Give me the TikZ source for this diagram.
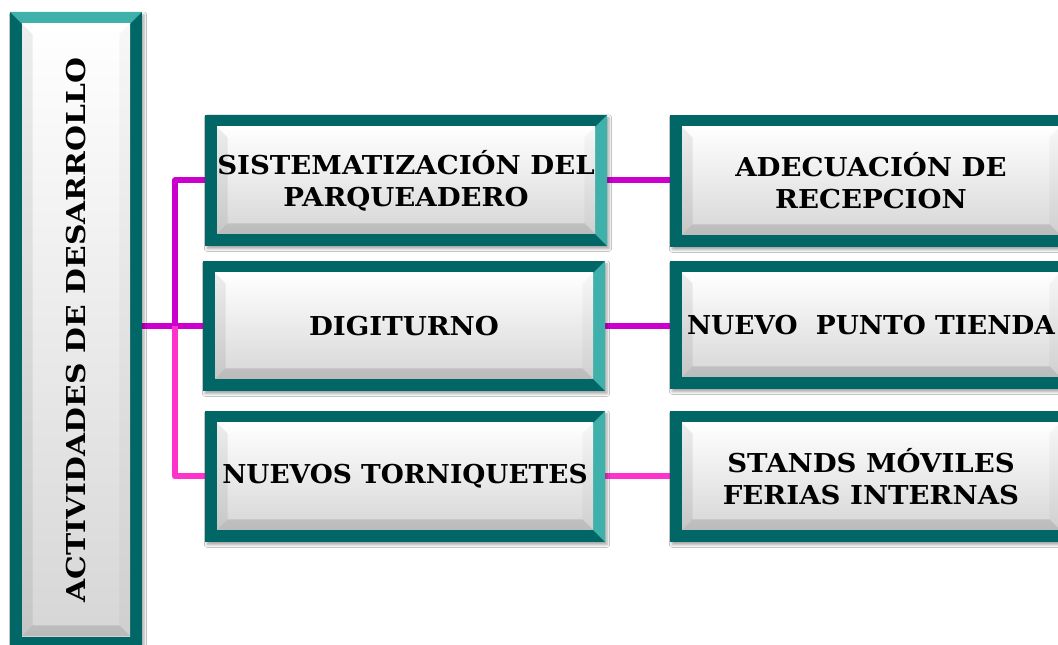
\documentclass[tikz,border=0pt]{standalone}
\usepackage{fontspec}
\usepackage{graphicx}
\setmainfont{DejaVu Serif}
\newfontfamily\boxfont{DejaVu Serif}[FakeStretch=1.06]
\usetikzlibrary{calc,backgrounds,shadows.blur}
\definecolor{tealD}{RGB}{0,102,102}
\definecolor{tealL}{RGB}{64,176,170}
\definecolor{magD}{RGB}{204,0,204}
\definecolor{magP}{RGB}{255,51,204}
\newcommand\bvcommon{%
  \coordinate (sw) at (path picture bounding box.south west);
  \coordinate (ne) at (path picture bounding box.north east);
  \coordinate (nw) at (path picture bounding box.north west);
  \coordinate (se) at (path picture bounding box.south east);
  \fill[tealD] (sw) rectangle (ne);}
\newcommand\bvright{%
  \fill[tealL] (ne) -- (se) -- ([shift={(-9pt,9pt)}]se) -- ([shift={(-9pt,-9pt)}]ne) -- cycle;}
\newcommand\bvtop{%
  \fill[tealL] (nw) -- (ne) -- ([shift={(-9pt,-9pt)}]ne) -- ([shift={(9pt,-9pt)}]nw) -- cycle;}
\newcommand\bvinner{%
  \coordinate (isw) at ([shift={(9pt,9pt)}]sw);
  \coordinate (ine) at ([shift={(-9pt,-9pt)}]ne);
  \coordinate (inw) at ([shift={(9pt,-9pt)}]nw);
  \coordinate (ise) at ([shift={(-9pt,9pt)}]se);
  \shade[top color=white, bottom color=black!16] (isw) rectangle (ine);
  \fill[black, opacity=0.07] (isw) -- (inw) -- ([shift={(8pt,-8pt)}]inw) -- ([shift={(8pt,8pt)}]isw) -- cycle;
  \fill[black, opacity=0.12] (isw) -- ([shift={(8pt,8pt)}]isw) -- ([shift={(-8pt,8pt)}]ise) -- (ise) -- cycle;
  \fill[black, opacity=0.03] (ise) -- (ine) -- ([shift={(-8pt,-8pt)}]ine) -- ([shift={(-8pt,8pt)}]ise) -- cycle;}
\tikzset{
  bvnode/.style={rectangle, inner sep=0pt, align=center,
    font=\boxfont\bfseries\fontsize{19.5}{24}\selectfont,
    blur shadow={shadow xshift=1.5pt, shadow yshift=-2pt, shadow blur radius=2pt, shadow opacity=35}},
  bevelR/.style={bvnode, path picture={\bvcommon\bvright\bvinner}},
  bevelT/.style={bvnode, path picture={\bvcommon\bvtop\bvinner}},
  link/.style={line width=4.5pt},
}
\begin{document}
\begin{tikzpicture}[x=0.75pt, y=-0.75pt]
\useasboundingbox (0,0) rectangle (1058,645);
\clip (0,0) rectangle (1058,645);
% left box
\node[bevelT, minimum width=132*0.75pt, minimum height=636*0.75pt] (L) at (76,330) {\rotatebox{90}{\scalebox{1.08}[1]{ACTIVIDADES DE DESARROLLO}}};
% middle column
\node[bevelR, minimum width=402*0.75pt, minimum height=131*0.75pt] (M1) at (406,180.5) {SISTEMATIZACIÓN DEL\\PARQUEADERO};
\node[bevelR, minimum width=402*0.75pt, minimum height=130*0.75pt] (M2) at (404,326) {DIGITURNO};
\node[bevelR, minimum width=400*0.75pt, minimum height=131*0.75pt] (M3) at (405,476.5) {\scalebox{0.96}[1]{NUEVOS TORNIQUETES}};
% right column
\node[bevelR, minimum width=402*0.75pt, minimum height=132*0.75pt] (R1) at (871,181) {ADECUACIÓN DE\\RECEPCION};
\node[bevelR, minimum width=402*0.75pt, minimum height=128*0.75pt] (R2) at (871,325) {\scalebox{0.96}[1]{NUEVO\ \ PUNTO TIENDA}};
\node[bevelR, minimum width=402*0.75pt, minimum height=131*0.75pt] (R3) at (871,476.5) {STANDS MÓVILES\\FERIAS INTERNAS};
\coordinate (J) at (175,327);
\begin{scope}[on background layer]
\fill[white] (0,0) rectangle (1058,645);
\draw[link, magD] (L.east |- M2.west) -- (M2.west);
\draw[link, magD, line join=round] (M1.west) -- (J |- M1.west) -- (J |- M2.west);
\draw[link, magP, line join=round] (J |- M2.west) -- (J |- M3.west) -- (M3.west);
\draw[link, magD] (M1.east) -- (M1.east -| R1.west);
\draw[link, magD] (M2.east) -- (M2.east -| R2.west);
\draw[link, magP] (M3.east) -- (M3.east -| R3.west);
\end{scope}
\end{tikzpicture}
\end{document}
